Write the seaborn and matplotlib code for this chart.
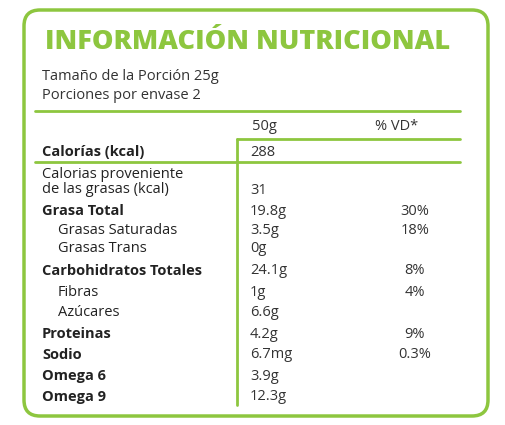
import matplotlib
matplotlib.use("Agg")
import matplotlib.pyplot as plt
import seaborn as sns
from matplotlib.patches import FancyBboxPatch

sns.set_theme(style="white")
plt.rcParams['font.family'] = ['Open Sans', 'DejaVu Sans']

title = "INFORMACIÓN NUTRICIONAL"
serving = ["Tamaño de la Porción 25g", "Porciones por envase 2"]
labels = ["Calorías (kcal)", "Calorias proveniente\nde las grasas (kcal)", "Grasa Total", "Grasas Saturadas",
          "Grasas Trans", "Carbohidratos Totales", "Fibras", "Azúcares", "Proteinas", "Sodio", "Omega 6", "Omega 9"]
amounts = ["288", "31", "19.8g", "3.5g", "0g", "24.1g", "1g", "6.6g", "4.2g", "6.7mg", "3.9g", "12.3g"]
percents = ["", "", "30%", "18%", "", "8%", "4%", "", "9%", "0.3%", "", ""]
bold = [True, False, True, False, False, True, False, False, True, True, True, True]
indent = [False, False, False, True, True, False, True, True, False, False, False, False]
rows_y = [152, 182, 211, 230, 248, 271, 293, 312, 334, 355, 376, 397]

GREEN = "#8dc63f"
fig = plt.figure(figsize=(5.06, 4.25), dpi=100)
ax = fig.add_axes([0, 0, 1, 1])
ax.set_xlim(0, 506); ax.set_ylim(425, 0); ax.axis("off")

ax.add_patch(FancyBboxPatch((24, 10), 464, 406, boxstyle="round,pad=0,rounding_size=16",
                            fill=False, ec=GREEN, lw=2.5))
ax.text(45, 42, title, color=GREEN, fontsize=19.5, fontweight="heavy", ha="left", va="center")
ax.text(42, 76, serving[0], fontsize=10.5, color="#333", va="center")
ax.text(42, 95, serving[1], fontsize=10.5, color="#333", va="center")
ax.plot([35, 460], [111, 111], color=GREEN, lw=2)
ax.text(252, 126, "50g", fontsize=10.5, color="#333", va="center")
ax.text(375, 126, "% VD*", fontsize=10.5, color="#333", va="center")
ax.plot([237, 460], [139, 139], color=GREEN, lw=2)
ax.plot([35, 460], [162, 162], color=GREEN, lw=2)
ax.plot([237, 237], [139, 405], color=GREEN, lw=2)

for lab, a, p, b, ind, y in zip(labels, amounts, percents, bold, indent, rows_y):
    ax.text(58 if ind else 42, y, lab, fontsize=10.5, color="#222", va="center",
            fontweight="bold" if b else "normal", linespacing=0.95)
    ay = y + 8 if "\n" in lab else y
    ax.text(250, ay, a, fontsize=10.5, color="#333", va="center")
    if p:
        ax.text(415, y, p, fontsize=10.5, color="#333", va="center", ha="center")

fig.savefig("out.png", dpi=100)
